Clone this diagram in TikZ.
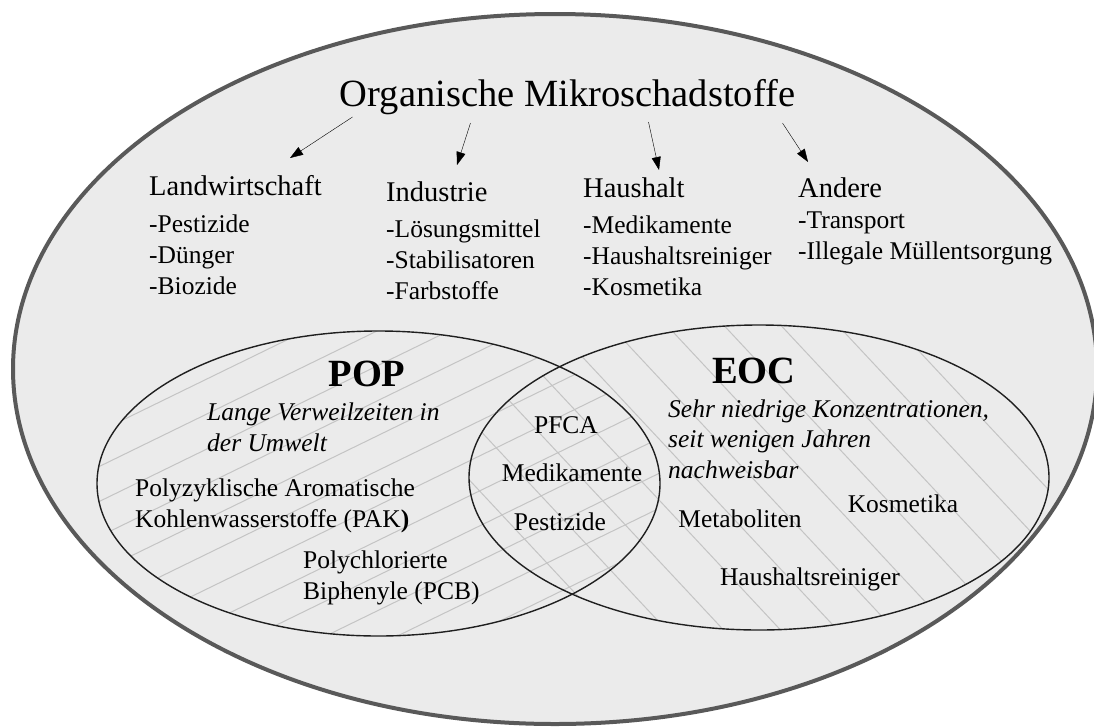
\documentclass[tikz,border=0pt]{standalone}
\usepackage{fontspec}
\setmainfont{Liberation Serif}
\usetikzlibrary{arrows.meta}
\definecolor{bgfill}{HTML}{EBEBEB}
\definecolor{rimgray}{HTML}{595959}
\definecolor{hatchgray}{HTML}{C4C4C4}

\begin{document}
\begin{tikzpicture}[
  x=1pt, y=-1pt,
  >={Triangle[length=13pt,width=9pt]},
  title/.style={anchor=base, inner sep=0pt, font=\fontsize{38.5}{46}\selectfont},
  group/.style={anchor=base west, inner sep=0pt, font=\fontsize{28.5}{34}\selectfont},
  item/.style={anchor=base west, inner sep=0pt, align=left, font=\fontsize{25.5}{31}\selectfont},
  setname/.style={anchor=base, inner sep=0pt, font=\fontsize{38.5}{46}\selectfont\bfseries},
  note/.style={anchor=base west, inner sep=0pt, align=left, font=\fontsize{25.5}{30.5}\selectfont\itshape},
  member/.style={anchor=base, inner sep=0pt, font=\fontsize{25.5}{31}\selectfont},
  hatch/.style={draw=hatchgray, line width=1pt},
  venn/.style={draw=black!88, line width=1.4pt}
]
\clip (0,0) rectangle (1094,726);
\draw[draw=rimgray, line width=4pt, fill=bgfill] (555,369) ellipse [x radius=542, y radius=355];

% hatching of the two sets
\begin{scope}
  \clip (378.5,483.5) ellipse [x radius=281.5, y radius=152.5];
  \foreach \c in {331,366,...,936}
    \draw[hatch] (90,\c) -- (670,\c-283);
\end{scope}
\begin{scope}
  \clip (759,477.5) ellipse [x radius=290, y radius=152.5];
  \foreach \c in {-323,-262,...,660}
    \draw[hatch] (460,\c) -- (1060,\c+642);
\end{scope}
\draw[venn] (378.5,483.5) ellipse [x radius=281.5, y radius=152.5];
\draw[venn] (759,477.5) ellipse [x radius=290, y radius=152.5];

\node[title] (title) at (567.5,106) {Organische Mikroschadstoffe};

\node[group] (land) at (149,195) {Landwirtschaft};
\node[group] (ind) at (386,201) {Industrie};
\node[group] (haus) at (583,197) {Haushalt};
\node[group] (other) at (798,197) {Andere};

% lists are placed by the baseline of their last line
\node[item] (landlist) at (149,294) {-Pestizide\\-Dünger\\-Biozide};
\node[item] (indlist) at (386,299) {-Lösungsmittel\\-Stabilisatoren\\-Farbstoffe};
\node[item] (hauslist) at (583,295) {-Medikamente\\-Haushaltsreiniger\\-Kosmetika};
\node[item] (otherlist) at (798,259) {-Transport\\-Illegale Müllentsorgung};

\draw[->] ([shift={(-215,11)}]title.base) -- ([shift={(141,-37)}]land.base west);
\draw[->] ([shift={(-97,17)}]title.base) -- ([shift={(71,-36)}]ind.base west);
\draw[->] ([shift={(81,16)}]title.base) -- ([shift={(76,-27)}]haus.base west);
\draw[->] ([shift={(215,17)}]title.base) -- ([shift={(10,-35)}]other.base west);

\node[setname] (pop) at (367,386) {POP};
\node[setname] (eoc) at (754,383) {EOC};

\node[note] (popnote) at (207,451) {Lange Verweilzeiten in\\der Umwelt};
\node[item] (pak) at (135,527) {Polyzyklische Aromatische\\Kohlenwasserstoffe (PAK\textbf{)}};
\node[item] (pcb) at (303,599) {Polychlorierte\\Biphenyle (PCB)};

\node[member] (pfca) at (566,433) {PFCA};
\node[member] (med) at (572,481) {Medikamente};
\node[member] (pest) at (560,530) {Pestizide};

\node[note] (eocnote) at (668,478) {Sehr niedrige Konzentrationen,\\seit wenigen Jahren\\nachweisbar};
\node[member] (meta) at (740,527) {Metaboliten};
\node[member] (kosm) at (903,512) {Kosmetika};
\node[member] (reinig) at (810,585) {Haushaltsreiniger};
\end{tikzpicture}
\end{document}
